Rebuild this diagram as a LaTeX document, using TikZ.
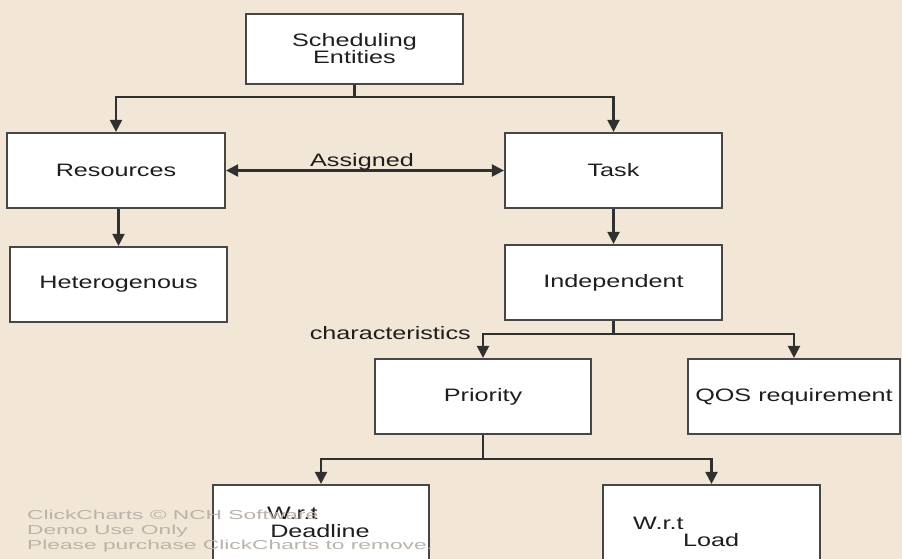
\documentclass[tikz,border=0pt]{standalone}
\usepackage{fontspec}
\setmainfont{Liberation Sans}
\usetikzlibrary{arrows.meta}
\definecolor{paper}{HTML}{F2E6D6}
\definecolor{edge}{HTML}{474747}
\definecolor{wire}{HTML}{303030}
\definecolor{ink}{HTML}{1E1E1E}
\definecolor{wmark}{HTML}{BBB3AA}
% the chart's lettering is set wide
\newcommand{\wtext}[1]{\scalebox{1.4}[1]{#1}}
\newcommand{\wmtext}[1]{\scalebox{1.75}[1]{#1}}
\begin{document}
\begin{tikzpicture}[x=1pt,y=-1pt,
  box/.style={draw=edge, line width=2.2pt, fill=white, inner sep=0pt,
    minimum width=217pt, minimum height=75pt, text=ink,
    font=\fontsize{18}{17}\selectfont, align=center},
  conn/.style={draw=wire, line width=2.2pt},
  tip/.style={},
  arr/.style={conn, -{Triangle[width=12pt,length=12pt]}},
  biarr/.style={conn, {Triangle[width=12pt,length=12pt]}-{Triangle[width=12pt,length=12pt]}},
  lbl/.style={text=ink, font=\fontsize{18}{17}\selectfont, inner sep=0pt},
  wm/.style={text=wmark, font=\fontsize{13}{13}\selectfont, inner sep=0pt, anchor=west}]
\useasboundingbox (0,0) rectangle (902,559);
\clip (0,0) rectangle (902,559);
\fill[paper] (0,0) rectangle (902,559);

% boxes
\node[box, minimum height=70pt] (se) at (354.5,49) {\wtext{Scheduling}\\\wtext{Entities}};
\node[box, minimum width=218pt] (res) at (116,170.5) {\wtext{Resources}};
\node[box] (task) at (613.5,170.5) {\wtext{Task}};
\node[box] (het) at (118.5,284.5) {\wtext{Heterogenous}};
\node[box] (ind) at (613.5,282.5) {\wtext{Independent}};
\node[box, minimum width=216pt] (pri) at (483,396.5) {\wtext{Priority}};
\node[box, minimum width=212pt] (qos) at (794,396.5) {\wtext{QOS requirement}};
\node[box, minimum width=216pt, minimum height=150pt] (dl) at (321,560) {};
\node[box, minimum height=150pt] (load) at (711.5,560) {};

% texts of the two lower boxes
\node[lbl, anchor=west] (dl1) at (267,513) {\wtext{W.r.t}};
\node[lbl] (dl2) at (320,531) {\wtext{Deadline}};
\node[lbl, anchor=west] (ld1) at (633,523) {\wtext{W.r.t}};
\node[lbl, anchor=west] (ld2) at (683,540) {\wtext{Load}};

% junction points of the branching connectors
\coordinate (j1) at (354.5,97);
\coordinate (j2) at (613.5,334);
\coordinate (j3) at (483,459);

\draw[conn] (se.south) -- (j1);
\draw[arr] (j1) -| (res.north);
\draw[arr] (j1) -| (task.north);

\draw[biarr] (res.east) -- (task.west);
\node[lbl] (assigned) at (362,162) {\wtext{Assigned}};

\draw[arr] (res.south -| het.north) -- (het.north);
\draw[arr] (task.south) -- (ind.north);

\draw[conn] (ind.south) -- (j2);
\draw[arr] (j2) -| (pri.north);
\draw[arr] (j2) -| (qos.north);
\node[lbl, anchor=east] (chars) at (471,333) {\wtext{characteristics}};

\draw[conn] (pri.south) -- (j3);
\draw[arr] (j3) -| (dl.north);
\draw[arr] (j3) -| (load.north);

% demo watermark
\node[wm] (wm1) at (27,515) {\wmtext{ClickCharts © NCH Software}};
\node[wm] (wm2) at (27,531) {\wmtext{Demo Use Only}};
\node[wm] (wm3) at (27,546) {\wmtext{Please purchase ClickCharts to remove.}};
\end{tikzpicture}
\end{document}
